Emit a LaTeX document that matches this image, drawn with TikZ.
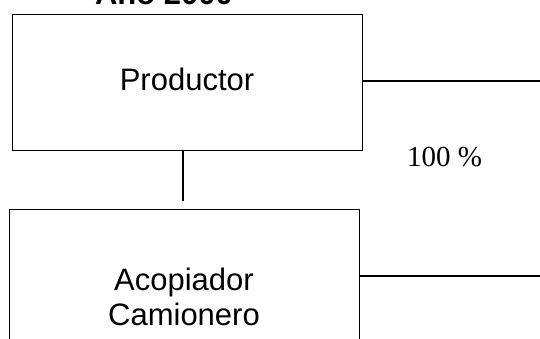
\documentclass[tikz,border=0pt]{standalone}
\usepackage{fontspec}
\setmainfont{Liberation Sans}
\newfontfamily\serifface{Liberation Serif}
\begin{document}
\begin{tikzpicture}[x=1pt,y=-1pt,
  boxstyle/.style={draw,line width=1.3pt,inner sep=0pt,minimum width=350pt,anchor=north west},
  lbl/.style={inner sep=0pt,anchor=base,font=\fontsize{31}{36}\selectfont},
  conn/.style={line width=1.3pt}]
\useasboundingbox (0,0) rectangle (540,339);
\clip (0,0) rectangle (540,339);
\node[lbl,font=\fontsize{31}{36}\selectfont\bfseries] (title) at (164,5) {Año 2000};
\node[boxstyle,minimum height=136pt] (prod) at (12,14) {};
\node[lbl] (prodtxt) at (187,91) {Productor};
\node[boxstyle,minimum height=170pt] (acop) at (9,209) {};
\node[lbl] (acoptxt1) at (184,290) {Acopiador};
\node[lbl] (acoptxt2) at (184,325) {Camionero};
\node[inner sep=0pt,anchor=base west,font=\serifface\fontsize{29}{34}\selectfont] (pct) at (407,167) {100 \%};
\coordinate (vtop) at (183,150);
\coordinate (vbot) at (183,201);
\coordinate (r1) at (540,81);
\coordinate (r2) at (540,276);
\draw[conn] (vtop) -- (vbot);
\draw[conn] (prod.east |- r1) -- (r1);
\draw[conn] (acop.east |- r2) -- (r2);
\end{tikzpicture}
\end{document}
